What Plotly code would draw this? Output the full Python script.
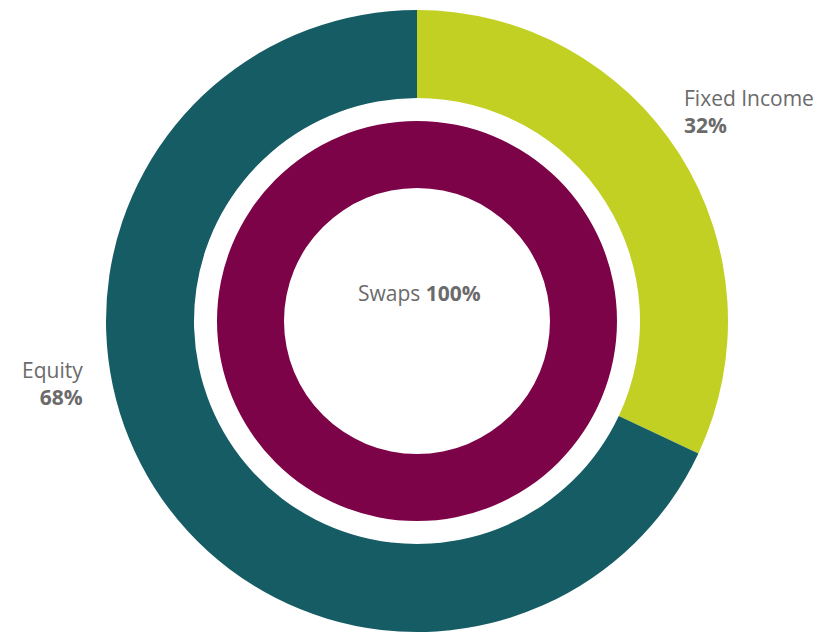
import plotly.graph_objects as go

# Asset-class split (outer ring) and instrument split (inner ring)
asset_labels = ["Fixed Income", "Equity"]
asset_values = [32, 68]
asset_colors = ["#C2D024", "#165C64"]

instrument_labels = ["Swaps"]
instrument_values = [100]
instrument_colors = ["#7D0348"]

W, H = 836, 634
cx, cy = 417, 321          # ring centre in pixels (from top-left)
r_outer, r_outer_hole = 311, 223
r_inner, r_inner_hole = 200, 133


def domain(r):
    yb = H - cy
    return dict(x=[(cx - r) / W, (cx + r) / W], y=[(yb - r) / H, (yb + r) / H])


fig = go.Figure()
fig.add_trace(go.Pie(
    labels=asset_labels, values=asset_values,
    marker=dict(colors=asset_colors, line=dict(width=0)),
    hole=r_outer_hole / r_outer, domain=domain(r_outer),
    sort=False, direction="clockwise", rotation=0,
    textinfo="none", hoverinfo="label+percent", showlegend=False,
))
fig.add_trace(go.Pie(
    labels=instrument_labels, values=instrument_values,
    marker=dict(colors=instrument_colors, line=dict(width=0)),
    hole=r_inner_hole / r_inner, domain=domain(r_inner),
    sort=False, direction="clockwise", rotation=0,
    textinfo="none", hoverinfo="label+percent", showlegend=False,
))

txt = "#6B6B6B"
font = dict(family="Open Sans, sans-serif", size=21, color=txt)


def px(x, y):
    return x / W, 1 - y / H


annos = [
    (682, 111, "left", f"{asset_labels[0]}<br><b>{asset_values[0]}%</b>"),
    (85, 383, "right", f"{asset_labels[1]}<br><b>{asset_values[1]}%</b>"),
    (419, 293, "center", f"{instrument_labels[0]} <b>{instrument_values[0]}%</b>"),
]
for x, y, align, text in annos:
    ax, ay = px(x, y)
    fig.add_annotation(
        x=ax, y=ay, xref="paper", yref="paper", text=text, showarrow=False,
        xanchor=align, yanchor="middle", align=align, font=font,
    )

fig.update_layout(
    width=W, height=H, margin=dict(l=0, r=0, t=0, b=0),
    paper_bgcolor="white", plot_bgcolor="white",
)
fig.write_html("out.html")
